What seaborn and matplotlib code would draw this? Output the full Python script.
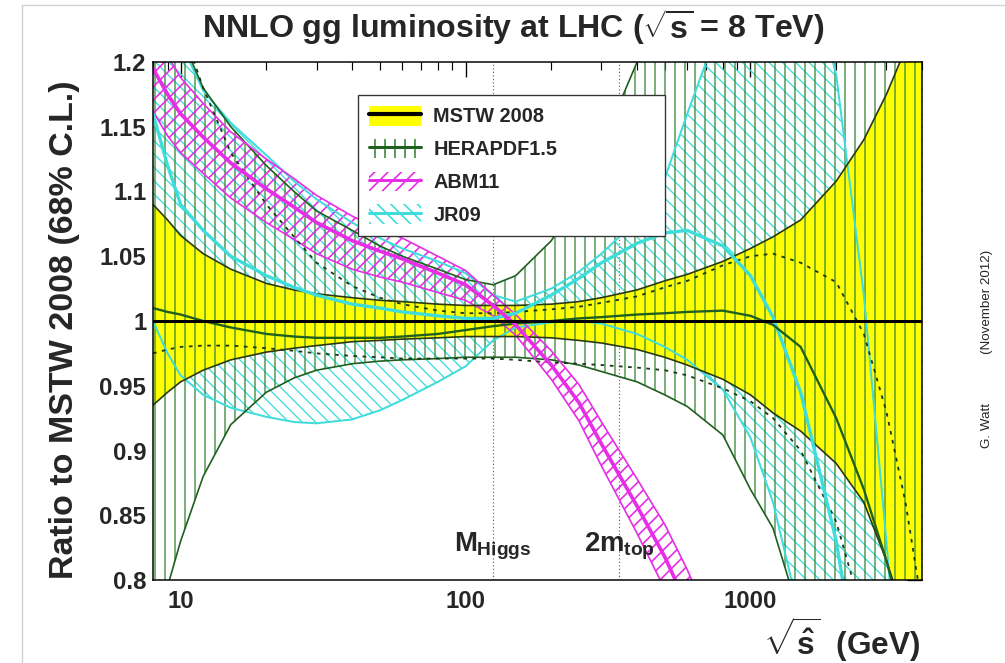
import matplotlib
matplotlib.use("Agg")
import matplotlib.pyplot as plt
import seaborn as sns
from matplotlib.patches import Patch
from matplotlib.lines import Line2D
from matplotlib.legend_handler import HandlerTuple
from matplotlib.ticker import FixedLocator, FixedFormatter, LogLocator, NullFormatter

# ---- partonic mass grid (GeV) ----
x_gev = [8, 9, 10, 12, 15, 20, 25, 30, 40, 50, 60, 80, 100, 125, 150, 200,
         250, 300, 400, 500, 600, 800, 1000, 1200, 1500, 2000, 2500, 3000, 3500, 4000]

# MSTW 2008 68% band (central = 1 by construction)
mstw_c = [1.0] * len(x_gev)
mstw_hi = [1.090, 1.078, 1.066, 1.052, 1.040, 1.029, 1.024, 1.021, 1.018, 1.016, 1.015, 1.013, 1.012, 1.012, 1.012,
           1.013, 1.015, 1.018, 1.024, 1.031, 1.036, 1.046, 1.056, 1.065, 1.078, 1.108, 1.140, 1.175, 1.210, 1.260]
mstw_lo = [0.935, 0.945, 0.953, 0.962, 0.970, 0.976, 0.979, 0.981, 0.984, 0.985, 0.986, 0.987, 0.988, 0.988, 0.988,
           0.987, 0.985, 0.983, 0.978, 0.972, 0.966, 0.955, 0.943, 0.929, 0.915, 0.890, 0.860, 0.815, 0.770, 0.720]

# HERAPDF1.5: central, total band, experimental-only band
hera_c = [1.010, 1.007, 1.005, 1.000, 0.995, 0.990, 0.988, 0.987, 0.987, 0.987, 0.988, 0.990, 0.993, 0.996, 0.998,
          1.000, 1.002, 1.003, 1.005, 1.006, 1.007, 1.008, 1.004, 0.997, 0.980, 0.925, 0.870, 0.815, 0.760, 0.700]
hera_hi = [1.33, 1.26, 1.22, 1.18, 1.15, 1.12, 1.10, 1.085, 1.07, 1.058, 1.05, 1.04, 1.032, 1.028, 1.035,
           1.062, 1.095, 1.135, 1.20, 1.27, 1.33, 1.42, 1.50, 1.55, 1.60, 1.65, 1.70, 1.75, 1.80, 1.85]
hera_lo = [0.76, 0.795, 0.83, 0.88, 0.92, 0.945, 0.956, 0.962, 0.967, 0.969, 0.970, 0.971, 0.972, 0.972, 0.972,
           0.970, 0.966, 0.961, 0.953, 0.943, 0.934, 0.912, 0.870, 0.840, 0.770, 0.650, 0.55, 0.45, 0.35, 0.25]
hera_exp_hi = [1.32, 1.27, 1.23, 1.18, 1.13, 1.09, 1.065, 1.045, 1.027, 1.018, 1.013, 1.008, 1.006, 1.006, 1.007,
               1.009, 1.011, 1.014, 1.019, 1.026, 1.031, 1.043, 1.050, 1.052, 1.045, 1.030, 0.990, 0.930, 0.860, 0.780]
hera_exp_lo = [0.975, 0.978, 0.980, 0.981, 0.981, 0.979, 0.977, 0.975, 0.973, 0.972, 0.971, 0.971, 0.971, 0.971, 0.970,
               0.968, 0.967, 0.966, 0.964, 0.962, 0.958, 0.948, 0.938, 0.925, 0.900, 0.845, 0.770, 0.700, 0.630, 0.560]

# ABM11
abm_x = [8, 9, 10, 12, 15, 20, 25, 30, 40, 50, 60, 80, 100, 125, 150, 200, 250, 300, 400, 500, 600, 800]
abm_c = [1.195, 1.175, 1.160, 1.142, 1.122, 1.102, 1.088, 1.076, 1.062, 1.054, 1.048, 1.037, 1.028, 1.012, 0.997,
         0.966, 0.937, 0.905, 0.857, 0.818, 0.780, 0.710]
abm_hi = [1.226, 1.205, 1.188, 1.168, 1.146, 1.125, 1.110, 1.097, 1.081, 1.071, 1.064, 1.050, 1.039, 1.020, 1.005,
          0.977, 0.951, 0.922, 0.878, 0.843, 0.808, 0.744]
abm_lo = [1.162, 1.143, 1.130, 1.114, 1.095, 1.076, 1.063, 1.052, 1.040, 1.034, 1.030, 1.022, 1.016, 1.004, 0.989,
          0.955, 0.923, 0.888, 0.836, 0.793, 0.752, 0.676]

# JR09
jr_c = [1.16, 1.12, 1.09, 1.07, 1.05, 1.035, 1.026, 1.02, 1.013, 1.01, 1.007, 1.004, 1.002, 1.002, 1.006,
        1.02, 1.033, 1.045, 1.06, 1.068, 1.07, 1.058, 1.035, 1.003, 0.945, 0.83, 0.70, 0.57, 0.45, 0.33]
jr_hi = [1.32, 1.26, 1.215, 1.178, 1.153, 1.128, 1.108, 1.094, 1.076, 1.064, 1.056, 1.046, 1.037, 1.02, 1.015,
         1.025, 1.038, 1.052, 1.078, 1.11, 1.16, 1.235, 1.28, 1.30, 1.30, 1.19, 1.02, 0.83, 0.65, 0.45]
jr_lo = [1.0, 0.975, 0.958, 0.943, 0.933, 0.926, 0.922, 0.921, 0.924, 0.931, 0.939, 0.953, 0.965, 0.985, 0.995,
         0.999, 1.0, 0.998, 0.99, 0.98, 0.97, 0.947, 0.91, 0.86, 0.77, 0.6, 0.45, 0.3, 0.2, 0.1]

# reference masses
mass_x = [125, 346]
mass_labels = [r"$M_{Higgs}$", r"$2m_{top}$"]

legend_labels = ["MSTW 2008", "HERAPDF1.5", "ABM11", "JR09"]
y_ticks = [0.8, 0.85, 0.9, 0.95, 1.0, 1.05, 1.1, 1.15, 1.2]
y_tick_labels = ["0.8", "0.85", "0.9", "0.95", "1", "1.05", "1.1", "1.15", "1.2"]

# ---- colours ----
C_YEL = "#ffff00"
C_HERA = "#3f8a3f"
C_HERA_LINE = "#1f5f1f"
C_ABM = "#e52ee5"
C_JR = "#3fdcdc"

sns.set_theme(style="white")
plt.rcParams.update({
    "font.family": ["Liberation Sans", "DejaVu Sans"],
    "font.weight": "bold",
    "mathtext.fontset": "custom",
    "mathtext.rm": "Liberation Sans:bold",
    "mathtext.it": "Liberation Sans:bold",
    "mathtext.bf": "Liberation Sans:bold",
    "axes.linewidth": 0.9,
    "axes.edgecolor": "black",
})

DPI = 120
W, H = 1005, 663
fig = plt.figure(figsize=(W / DPI, H / DPI), dpi=DPI)
fig.patch.set_facecolor("white")
ax = fig.add_axes([153 / W, 1 - 580 / H, 769 / W, 518 / H])
ax.set_xscale("log")
ax.set_xlim(8, 4000)
ax.set_ylim(0.8, 1.2)


def band(x, lo, hi, face, edge, hatch, z, hlw=0.8):
    plt.rcParams["hatch.linewidth"] = hlw
    ax.fill_between(x, lo, hi, facecolor=face, edgecolor=edge, hatch=hatch,
                    linewidth=0, zorder=z)


def curve(x, y, color, lw, ls="-", z=6):
    sns.lineplot(x=x, y=y, ax=ax, color=color, linewidth=lw, linestyle=ls,
                 estimator=None, sort=False, legend=False, zorder=z)


# reference-mass markers
for mx in mass_x:
    ax.axvline(mx, color="#666666", lw=0.7, ls=(0, (1, 2)), zorder=1)

# bands
band(x_gev, jr_lo, jr_hi, "none", C_JR, "\\\\\\", 2, 0.8)
band(x_gev, mstw_lo, mstw_hi, C_YEL, C_YEL, None, 3)
band(x_gev, hera_lo, hera_hi, "none", C_HERA, "||", 4, 0.8)
band(abm_x, abm_lo, abm_hi, "none", C_ABM, "///", 5, 1.0)

# JR09 lines
curve(x_gev, jr_lo, C_JR, 1.2, z=7)
curve(x_gev, jr_hi, C_JR, 1.2, z=7)
curve(x_gev, jr_c, C_JR, 2.0, z=9)
# HERAPDF lines
curve(x_gev, hera_lo, C_HERA_LINE, 1.0, z=7)
curve(x_gev, hera_hi, C_HERA_LINE, 1.0, z=7)
curve(x_gev, hera_exp_lo, "#1a3a1a", 1.1, ls=(0, (2, 3)), z=8)
curve(x_gev, hera_exp_hi, "#1a3a1a", 1.1, ls=(0, (2, 3)), z=8)
curve(x_gev, hera_c, C_HERA_LINE, 1.4, z=9)
# ABM lines
curve(abm_x, abm_lo, C_ABM, 1.0, z=7)
curve(abm_x, abm_hi, C_ABM, 1.0, z=7)
curve(abm_x, abm_c, C_ABM, 2.2, z=9)
# MSTW lines
curve(x_gev, mstw_lo, "#2a3a10", 1.0, z=8)
curve(x_gev, mstw_hi, "#2a3a10", 1.0, z=8)
curve(x_gev, mstw_c, "black", 1.8, z=10)

# annotations at the reference masses
for mx, lab in zip(mass_x, mass_labels):
    ax.text(mx, 0.822, lab, ha="center", va="baseline", fontsize=16.5, zorder=12)

# axes styling
ax.set_xlabel("")
ax.set_ylabel("")
ax.yaxis.set_major_locator(FixedLocator(y_ticks))
ax.yaxis.set_major_formatter(FixedFormatter(y_tick_labels))
ax.yaxis.set_minor_locator(FixedLocator([0.8 + 0.01 * i for i in range(41)]))
ax.xaxis.set_major_locator(LogLocator(base=10, numticks=10))
ax.xaxis.set_minor_locator(LogLocator(base=10, subs=range(2, 10), numticks=20))
ax.xaxis.set_minor_formatter(NullFormatter())
ax.set_xticks([10, 100, 1000])
ax.set_xticklabels(["10", "100", "1000"])
ax.tick_params(which="both", direction="in", top=True, right=True, color="black")
ax.tick_params(which="major", length=9, width=0.8, labelsize=14.4)
ax.tick_params(which="minor", length=4.8, width=0.7)
ax.tick_params(axis="y", which="major", pad=4)
ax.tick_params(axis="x", which="major", pad=6)
for sp in ax.spines.values():
    sp.set_linewidth(0.9)
    sp.set_zorder(20)

# legend: fixed-width box, fill and line overlaid in each key
handles = [
    (Patch(facecolor=C_YEL, edgecolor="none"), Line2D([], [], color="black", lw=2.5)),
    (Patch(facecolor="none", edgecolor=C_HERA, hatch="||", lw=0), Line2D([], [], color=C_HERA_LINE, lw=1.8)),
    (Patch(facecolor="none", edgecolor=C_ABM, hatch="///", lw=0), Line2D([], [], color=C_ABM, lw=1.8)),
    (Patch(facecolor="none", edgecolor=C_JR, hatch="\\\\\\", lw=0), Line2D([], [], color=C_JR, lw=1.8)),
]
leg = ax.legend(handles, legend_labels, handler_map={tuple: HandlerTuple(ndivide=1, pad=0)},
                loc="upper left", mode="expand",
                bbox_to_anchor=(358 / W, 1 - 233 / H, (665 - 358) / W, (233 - 95) / H),
                bbox_transform=fig.transFigure,
                borderaxespad=0, frameon=True, fancybox=False, framealpha=1, edgecolor="#333333",
                fontsize=11.9, handlelength=2.65, handleheight=1.15, labelspacing=0.62,
                handletextpad=0.6, borderpad=0.55)
leg.get_frame().set_linewidth(0.8)
leg.set_zorder(30)

# titles and labels
fig.text(513 / W, 1 - 27 / H, r"NNLO gg luminosity at LHC ($\sqrt{s}$ = 8 TeV)",
         ha="center", va="center", fontsize=19.3)
fig.text(65 / W, 1 - 330 / H, "Ratio to MSTW 2008 (68% C.L.)", rotation=90,
         ha="center", va="center", fontsize=20.4)
fig.text(920 / W, 1 - 640 / H, r"$\sqrt{\hat{s}}$  (GeV)", ha="right", va="center", fontsize=19)
fig.text(987 / W, 1 - 425 / H, "G. Watt", rotation=90, ha="center", va="center",
         fontsize=8, fontweight="normal")
fig.text(987 / W, 1 - 302 / H, "(November 2012)", rotation=90, ha="center", va="center",
         fontsize=8, fontweight="normal")

# thin page border
fig.add_artist(Line2D([22 / W, 22 / W], [0, 1 - 5 / H], transform=fig.transFigure, color="#d0d0d0", lw=0.8))
fig.add_artist(Line2D([22 / W, 1.0], [1 - 5 / H, 1 - 5 / H], transform=fig.transFigure, color="#d0d0d0", lw=0.8))

fig.savefig("out.png", dpi=DPI)
